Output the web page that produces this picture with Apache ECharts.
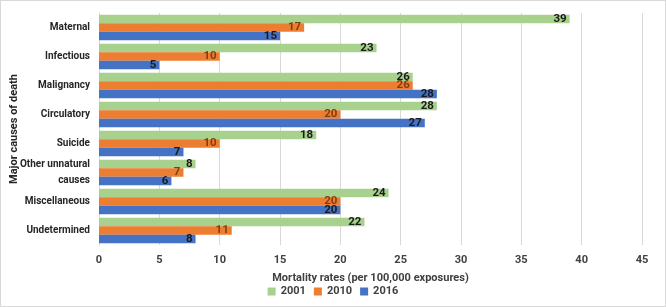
<!DOCTYPE html>
<html>
<head>
<meta charset="utf-8">
<script src="https://cdn.jsdelivr.net/npm/echarts@6/dist/echarts.min.js"></script>
<style>
  html, body { margin: 0; padding: 0; background: #fff; }
  #root { width: 664px; height: 305px; border: 1px solid #d9d9d9; }
</style>
</head>
<body>
<div id="root"></div>
<script>
// causes of death, top to bottom
const causes = ['Maternal', 'Infectious', 'Malignancy', 'Circulatory', 'Suicide',
  'Other unnatural\ncauses', 'Miscellaneous', 'Undetermined']
const years = ['2001', '2010', '2016']
const rates2001 = [39, 23, 26, 28, 18, 8, 24, 22]
const rates2010 = [17, 10, 26, 20, 10, 7, 20, 11]
const rates2016 = [15, 5, 28, 27, 7, 6, 20, 8]
const xTicks = [0, 5, 10, 15, 20, 25, 30, 35, 40, 45]

const colors = ['#a9d18e', '#ed7d31', '#4472c4']
const labelColors = ['#1a1a1a', '#843c0c', '#1a1a1a']
const font = 'Roboto'

var myChart = echarts.init(document.getElementById('root'))

const seriesList = [rates2001, rates2010, rates2016].map((vals, i) => ({
  type: 'bar',
  name: years[i],
  data: vals,
  barGap: '0%',
  barCategoryGap: '12%',
  itemStyle: { color: colors[i] },
  label: {
    show: true,
    position: 'insideRight',
    distance: 3,
    color: labelColors[i],
    fontFamily: font,
    fontWeight: 'bold',
    fontSize: 11.5
  }
}))

const option = {
  animation: false,
  grid: { left: 98, right: 23, top: 12, bottom: 61, containLabel: false, outerBoundsMode: 'none' },
  legend: {
    bottom: 4,
    left: 'center',
    itemWidth: 8,
    itemHeight: 8,
    itemGap: 8,
    icon: 'rect',
    textStyle: { fontFamily: font, fontWeight: 'bold', fontSize: 11, color: '#404040' },
    data: years
  },
  xAxis: {
    type: 'value',
    min: xTicks[0],
    max: xTicks[xTicks.length - 1],
    interval: 5,
    name: 'Mortality rates (per 100,000 exposures)',
    nameLocation: 'middle',
    nameGap: 28,
    nameTextStyle: { fontFamily: font, fontWeight: 'bold', fontSize: 11, color: '#404040' },
    axisLine: { show: false },
    axisTick: { show: false },
    axisLabel: { fontFamily: font, fontWeight: 'bold', fontSize: 11, color: '#404040', margin: 10 },
    splitLine: { lineStyle: { color: '#d9d9d9' } }
  },
  yAxis: {
    type: 'category',
    data: causes,
    inverse: true,
    name: 'Major causes of death',
    nameLocation: 'middle',
    nameGap: 79,
    nameRotate: 90,
    nameMoveOverlap: false,
    nameTextStyle: { fontFamily: font, fontWeight: 'bold', fontSize: 11, color: '#262626' },
    axisLine: { lineStyle: { color: '#d9d9d9' } },
    axisTick: { length: 4, lineStyle: { color: '#d9d9d9' } },
    axisLabel: { fontFamily: font, fontWeight: 'bold', fontSize: 10, color: '#262626', margin: 9, lineHeight: 16 }
  },
  series: seriesList
}
myChart.setOption(option)
</script>
</body>
</html>
